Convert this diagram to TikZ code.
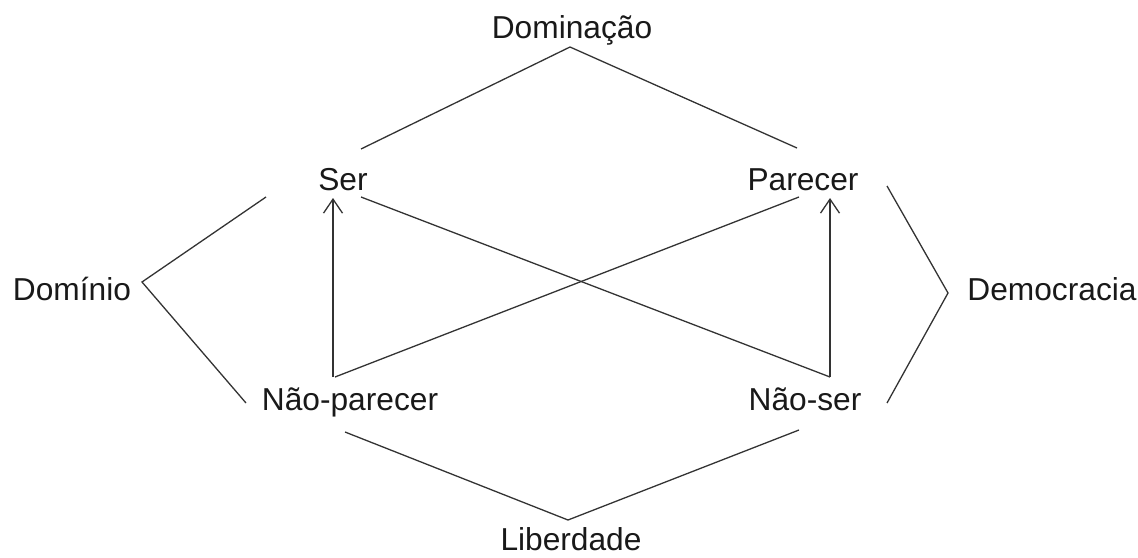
\documentclass[tikz,border=0pt]{standalone}
\usepackage{fontspec}
\setmainfont{Liberation Sans}
\usetikzlibrary{arrows.meta}
\begin{document}
\begin{tikzpicture}[x=1pt,y=-1pt,
  lbl/.style={anchor=base,inner sep=0pt,font=\fontsize{31.7}{36}\selectfont,text=black!90},
  ln/.style={line width=1.3pt,draw=black!80},
  arr/.style={ln,-{Straight Barb[length=14pt,width=19pt,line width=1.3pt]}}]
\useasboundingbox (0,0) rectangle (1138,557);
\node[lbl] (dom) at (572,38) {Dominação};
\node[lbl] (ser) at (343,190) {Ser};
\node[lbl] (par) at (803,190) {Parecer};
\node[lbl] (npar) at (350,410) {Não-parecer};
\node[lbl] (nser) at (805,410) {Não-ser};
\node[lbl] (domi) at (72,300) {Domínio};
\node[lbl] (demo) at (1052,300) {Democracia};
\node[lbl] (lib) at (571,550) {Liberdade};
% apex and end coordinates
\coordinate (aTop) at (570,47);
\coordinate (tL) at (361,149);
\coordinate (tR) at (797,148);
\coordinate (aLeft) at (142,282);
\coordinate (lT) at (266,197);
\coordinate (lB) at (246,403);
\coordinate (aRight) at (948,293);
\coordinate (rT) at (887,186);
\coordinate (rB) at (887,403);
\coordinate (aBot) at (568,520);
\coordinate (bL) at (345,432);
\coordinate (bR) at (799,430);
\coordinate (serS) at (361,197);
\coordinate (parS) at (799,197);
\coordinate (nparN) at (335,377);
\coordinate (nserN) at (830,377);
\coordinate (arL0) at (333,377);
\coordinate (arL1) at (333,198);
\coordinate (arR0) at (830,377);
\coordinate (arR1) at (830,198);
\draw[ln] (tL) -- (aTop) -- (tR);
\draw[ln] (lT) -- (aLeft) -- (lB);
\draw[ln] (rT) -- (aRight) -- (rB);
\draw[ln] (bL) -- (aBot) -- (bR);
\draw[ln] (serS) -- (nserN);
\draw[ln] (parS) -- (nparN);
\draw[arr] (arL0) -- (arL1);
\draw[arr] (arR0) -- (arR1);
\end{tikzpicture}
\end{document}
